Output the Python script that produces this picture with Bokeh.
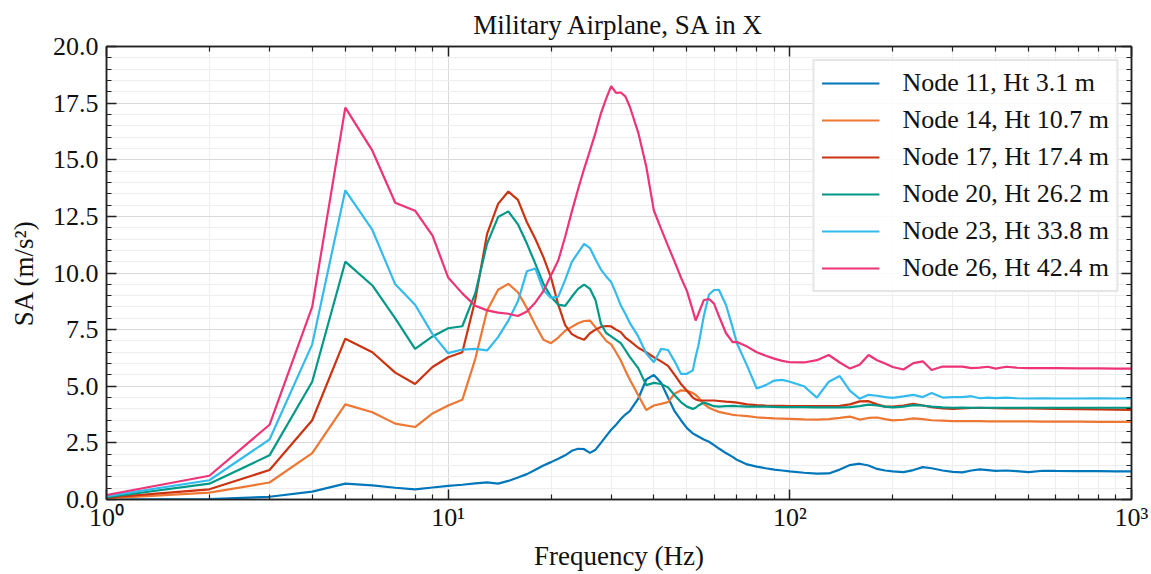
from bokeh.plotting import figure
from bokeh.models import (ColumnDataSource, LogAxis, LinearAxis, FixedTicker,
                          CustomJSTickFormatter, PrintfTickFormatter, Legend, LegendItem)
from bokeh.embed import file_html
from bokeh.resources import INLINE

freq = [1,2,3,4,5,6,7,8,9,10,11,12,13,14,15,16,17,18,19,20,21,22,23,24,25,26,27,28,29,30,31,32,33,34,
        36,38,40,42,44,46,48,50,52,53,54,56,58,60,62,65,68,70,75,80,85,90,95,100,
        110,120,130,140,150,160,170,180,190,200,
        215,230,245,260,280,300,320,340,360,380,400,
        430,460,500,550,600,700,800,900,1000]

n26 = [0.2,1.05,3.3,8.5,17.3,15.4,13.1,12.75,11.65,9.8,
       9.1,8.55,8.35,8.25,8.2,8.1,8.3,8.7,9.2,9.9,
       10.55,11.6,12.7,13.7,14.6,15.4,16.2,17.05,17.7,18.25,
       17.95,17.97,17.8,17.35,
       16.2,14.7,12.76,11.95,11.2,10.5,9.8,9.2,8.35,7.9,8.2,8.8,8.85,8.65,8.1,7.35,6.95,6.95,6.75,6.5,6.35,6.22,6.12,6.06,
       6.05,6.15,6.38,6.05,5.78,5.95,6.38,6.15,6.0,5.85,
       5.74,6.02,6.1,5.72,5.87,5.87,5.87,5.8,5.82,5.86,5.78,
       5.86,5.82,5.8,5.8,5.8,5.79,5.79,5.78,5.78]

n23 = [0.15,0.85,2.65,6.85,13.65,11.9,9.5,8.6,7.3,6.46,
       6.62,6.65,6.58,7.17,7.9,8.75,10.08,10.2,9.25,8.9,
       8.96,9.7,10.48,10.9,11.29,11.1,10.6,10.15,9.85,9.6,
       9.1,8.57,8.2,7.8,
       7.2,6.45,6.06,6.65,6.6,6.1,5.55,5.55,5.7,6.3,6.8,8.1,9.05,9.25,9.26,8.6,7.6,6.9,5.9,4.9,5.05,5.25,5.28,5.2,
       5.0,4.5,5.2,5.45,4.8,4.45,4.62,4.58,4.52,4.49,
       4.55,4.62,4.52,4.7,4.5,4.52,4.52,4.56,4.47,4.5,4.48,
       4.5,4.47,4.46,4.47,4.46,4.46,4.47,4.46,4.46]

n20 = [0.1,0.7,1.95,5.2,10.5,9.45,8.0,6.65,7.2,7.56,
       7.65,9.1,11.3,12.47,12.72,12.15,11.3,10.4,9.52,8.95,
       8.6,8.55,8.95,9.3,9.49,9.3,8.8,7.76,7.35,7.2,
       7.05,6.9,6.6,6.3,
       5.8,5.05,5.15,5.1,4.95,4.6,4.3,4.1,4.0,4.05,4.15,4.28,4.2,4.12,4.1,4.12,4.13,4.12,4.1,4.1,4.1,4.09,4.08,4.08,
       4.08,4.07,4.07,4.07,4.08,4.12,4.19,4.15,4.1,4.07,
       4.1,4.17,4.15,4.1,4.07,4.05,4.06,4.05,4.05,4.05,4.05,
       4.05,4.05,4.05,4.05,4.05,4.05,4.05,4.05,4.05]

n17 = [0.08,0.45,1.3,3.5,7.1,6.5,5.6,5.1,5.85,6.28,
       6.5,8.8,11.73,13.05,13.6,13.23,12.24,11.5,10.7,9.8,
       8.6,7.7,7.3,7.15,7.05,7.34,7.5,7.62,7.66,7.64,
       7.5,7.39,7.15,7.0,
       6.7,6.5,6.28,6.1,5.9,5.5,5.1,4.8,4.5,4.42,4.38,4.37,4.37,4.37,4.35,4.32,4.3,4.28,4.2,4.17,4.15,4.14,4.13,4.12,
       4.12,4.12,4.12,4.13,4.2,4.33,4.34,4.2,4.1,4.1,
       4.15,4.22,4.15,4.08,4.02,4.0,4.02,4.04,4.05,4.04,4.03,
       4.02,4.02,4.02,4.01,4.0,3.99,3.98,3.97,3.96]

n14 = [0.05,0.3,0.75,2.05,4.2,3.85,3.35,3.2,3.8,4.15,
       4.4,6.2,8.34,9.26,9.52,9.15,8.45,7.7,7.05,6.9,
       7.15,7.45,7.62,7.78,7.88,7.9,7.6,7.3,7.0,6.85,
       6.5,6.14,5.7,5.3,
       4.6,3.95,4.15,4.22,4.3,4.67,4.82,4.8,4.7,4.62,4.5,4.22,4.05,3.95,3.87,3.8,3.74,3.72,3.68,3.63,3.6,3.58,3.57,3.56,
       3.54,3.53,3.55,3.6,3.66,3.53,3.6,3.62,3.55,3.49,
       3.52,3.58,3.55,3.5,3.48,3.46,3.46,3.46,3.46,3.45,3.45,
       3.45,3.45,3.45,3.44,3.44,3.44,3.43,3.43,3.43]

n11 = [0.0,0.02,0.12,0.35,0.7,0.62,0.52,0.45,0.53,0.6,
       0.65,0.71,0.76,0.7,0.82,0.97,1.12,1.31,1.5,1.65,
       1.8,1.95,2.15,2.24,2.22,2.06,2.2,2.5,2.8,3.08,
       3.3,3.55,3.75,3.9,
       4.45,5.3,5.5,5.15,4.5,3.9,3.5,3.15,2.92,2.85,2.78,2.65,2.55,2.4,2.25,2.05,1.88,1.75,1.55,1.45,1.38,1.32,1.28,1.24,
       1.18,1.14,1.15,1.32,1.52,1.58,1.5,1.35,1.28,1.24,
       1.21,1.3,1.43,1.38,1.28,1.22,1.2,1.28,1.33,1.3,1.26,
       1.28,1.25,1.21,1.27,1.26,1.25,1.25,1.24,1.24]

series_keys = ["n11", "n14", "n17", "n20", "n23", "n26"]
series_labels = ["Node 11, Ht 3.1 m", "Node 14, Ht 10.7 m", "Node 17, Ht 17.4 m",
                 "Node 20, Ht 26.2 m", "Node 23, Ht 33.8 m", "Node 26, Ht 42.4 m"]
colors = ["#0077BB", "#EE7733", "#CC3311", "#009988", "#33BBEE", "#EE3377"]

x_major = [1, 10, 100, 1000]
x_minor = [m * d for d in (1, 10, 100) for m in range(2, 10)]
y_major = [0, 2.5, 5, 7.5, 10, 12.5, 15, 17.5, 20]
y_minor = [i * 0.5 for i in range(0, 41)]

title_text = "Military Airplane, SA in X"
x_label = "Frequency (Hz)"
y_label = "SA (m/s\u00b2)"

FONT = "Liberation Serif"
TXT = "#111111"

src = ColumnDataSource(dict(freq=freq, n11=n11, n14=n14, n17=n17, n20=n20, n23=n23, n26=n26))

p = figure(width=1151, height=574, x_axis_type="log", x_range=(1, 1000), y_range=(0, 20),
           output_backend="svg", toolbar_location=None, title=title_text,
           min_border_left=106, min_border_right=20, min_border_top=46, min_border_bottom=75)
p.background_fill_color = "white"
p.border_fill_color = "white"
p.outline_line_color = "#222222"
p.outline_line_width = 1.5

p.title.align = "center"
p.title.text_font = FONT
p.title.text_font_size = "27px"
p.title.text_font_style = "normal"
p.title.text_color = TXT
p.title.standoff = 13

xt = FixedTicker(ticks=x_major, minor_ticks=x_minor)
yt = FixedTicker(ticks=y_major, minor_ticks=y_minor)

sup_fmt = CustomJSTickFormatter(code="""
const m = {1: '10\u2070', 10: '10\u00b9', 100: '10\u00b2', 1000: '10\u00b3'};
const k = Math.round(tick);
return (k in m) ? m[k] : '';
""")
empty_fmt = CustomJSTickFormatter(code="return '';")


def style_axis(ax):
    ax.axis_line_color = "#222222"
    ax.axis_line_width = 1.5
    ax.major_tick_in = 10
    ax.major_tick_out = 0
    ax.minor_tick_in = 5
    ax.minor_tick_out = 0
    ax.major_tick_line_color = "#222222"
    ax.major_tick_line_width = 1.5
    ax.minor_tick_line_color = "#222222"
    ax.minor_tick_line_width = 1.2
    ax.major_label_text_font = FONT
    ax.major_label_text_font_size = "26px"
    ax.major_label_text_color = TXT
    ax.axis_label_text_font = FONT
    ax.axis_label_text_font_size = "27px"
    ax.axis_label_text_font_style = "normal"
    ax.axis_label_text_color = TXT


xa = p.xaxis[0]
xa.ticker = xt
xa.formatter = sup_fmt
xa.axis_label = x_label
style_axis(xa)
xa.major_label_standoff = 3
xa.axis_label_standoff = 6

ya = p.yaxis[0]
ya.ticker = yt
ya.formatter = PrintfTickFormatter(format="%.1f")
ya.axis_label = y_label
style_axis(ya)
ya.major_label_standoff = 8
ya.axis_label_standoff = 11

top = LogAxis(ticker=FixedTicker(ticks=x_major, minor_ticks=x_minor), formatter=empty_fmt)
style_axis(top)
top.major_label_standoff = 0
top.major_label_text_font_size = "1px"
p.add_layout(top, "above")

right = LinearAxis(ticker=FixedTicker(ticks=y_major, minor_ticks=y_minor), formatter=empty_fmt)
style_axis(right)
right.major_label_standoff = 0
right.major_label_text_font_size = "1px"
p.add_layout(right, "right")

p.xgrid.grid_line_color = "#d9d9d9"
p.xgrid.grid_line_width = 1
p.xgrid.minor_grid_line_color = "#eeeeee"
p.xgrid.minor_grid_line_width = 1
p.ygrid.grid_line_color = "#d9d9d9"
p.ygrid.grid_line_width = 1
p.ygrid.minor_grid_line_color = "#eeeeee"
p.ygrid.minor_grid_line_width = 1

items = []
for key, lab, col in zip(series_keys, series_labels, colors):
    r = p.line("freq", key, source=src, line_color=col, line_width=2.2)
    items.append(LegendItem(label=lab, renderers=[r]))

legend = Legend(items=items, location="top_right")
legend.margin = 13
legend.padding = 7
legend.spacing = 7
legend.label_text_font = FONT
legend.label_text_font_size = "26px"
legend.label_text_color = TXT
legend.label_standoff = 23
legend.label_height = 26
legend.glyph_height = 26
legend.glyph_width = 58
legend.border_line_color = "#cccccc"
legend.border_line_width = 2
legend.background_fill_color = "white"
legend.background_fill_alpha = 0.85
p.add_layout(legend, "center")

open("out.html", "w", encoding="utf-8").write(file_html(p, INLINE))
